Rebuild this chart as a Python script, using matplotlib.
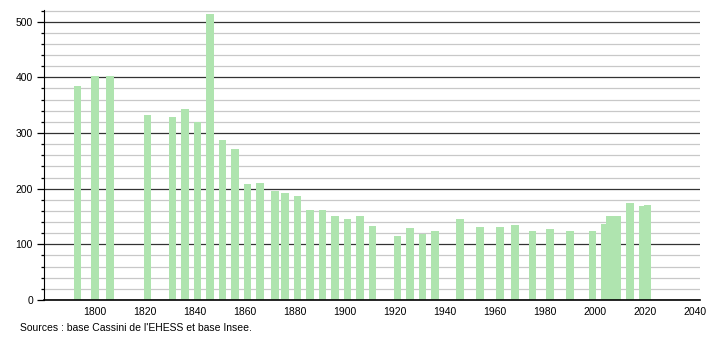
import matplotlib
matplotlib.use("Agg")
import matplotlib.pyplot as plt
from matplotlib.ticker import MultipleLocator

# census years and population
years = [1793, 1800, 1806, 1821, 1831, 1836, 1841, 1846, 1851, 1856,
         1861, 1866, 1872, 1876, 1881, 1886, 1891, 1896, 1901, 1906,
         1911, 1921, 1926, 1931, 1936, 1946, 1954, 1962, 1968, 1975,
         1982, 1990, 1999, 2004, 2006, 2007, 2008, 2009, 2014, 2019,
         2020, 2021]
population = [385, 403, 403, 333, 328, 344, 320, 513, 288, 272,
              209, 211, 195, 193, 187, 162, 162, 151, 145, 151,
              133, 115, 130, 118, 124, 146, 131, 131, 135, 124,
              128, 124, 124, 137, 151, 151, 151, 151, 175, 168,
              169, 170]

xticks = list(range(1800, 2041, 20))
source = "Sources : base Cassini de l'EHESS et base Insee."

plt.rcParams['font.family'] = ['Liberation Sans', 'DejaVu Sans']

fig = plt.figure(figsize=(7.1, 3.4), dpi=100)
ax = fig.add_axes([44 / 710, 40 / 340, 656 / 710, 290 / 340])

ax.bar(years, population, width=3.1, color='#afe4af', zorder=2)

ax.set_xlim(1779.6, 2042)
ax.set_ylim(0, 521)
ax.set_xticks(xticks)
ax.yaxis.set_major_locator(MultipleLocator(100))
ax.yaxis.set_minor_locator(MultipleLocator(20))

ax.grid(axis='y', which='minor', color='#c8c8c8', linewidth=0.9, zorder=0)
ax.grid(axis='y', which='major', color='#333333', linewidth=0.9, zorder=1)
ax.set_axisbelow(True)

for s in ['top', 'right']:
    ax.spines[s].set_visible(False)
ax.spines['left'].set_color('black')
ax.spines['bottom'].set_color('black')
ax.spines['bottom'].set_linewidth(1.2)

ax.tick_params(axis='x', length=0, labelsize=7.5, pad=5)
ax.tick_params(axis='y', which='major', length=5, width=0.9, labelsize=7.5, pad=3)
ax.tick_params(axis='y', which='minor', length=2.5, width=0.9)

fig.text(20 / 710, 12 / 340, source, fontsize=7.5, ha='left', va='center')

fig.savefig("out.png", dpi=100)
